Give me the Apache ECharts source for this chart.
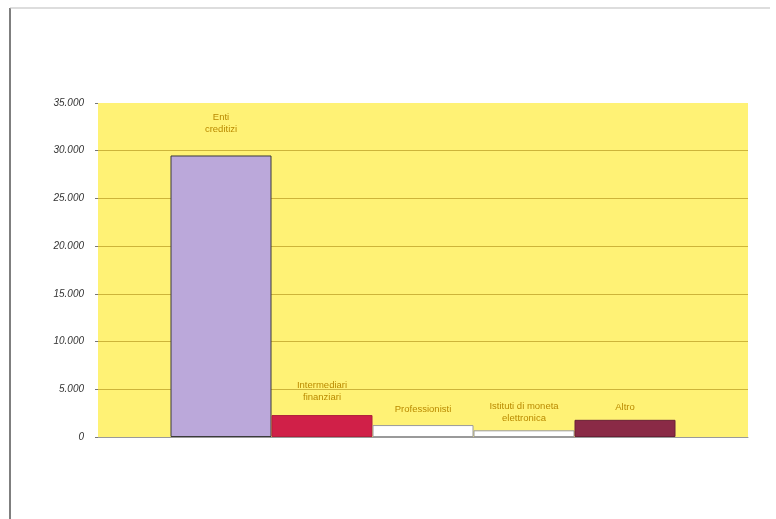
<!DOCTYPE html>
<html>
<head>
<meta charset="utf-8">
<script src="https://cdn.jsdelivr.net/npm/echarts@6/dist/echarts.min.js"></script>
<style>
html,body{margin:0;padding:0;background:#fff;}
#chart{width:776px;height:519px;}
</style>
</head>
<body>
<div id="chart"></div>
<script>
var categories = ['Enti\ncreditizi', 'Intermediari\nfinanziari', 'Professionisti', 'Istituti di moneta\nelettronica', 'Altro'];
var values = [29500, 2300, 1250, 700, 1800];
var yTicks = [0, 5000, 10000, 15000, 20000, 25000, 30000, 35000];

var barColors = ['#BBA8DA', '#D02048', '#FFFFFF', '#FFFFFF', '#8A2A46'];
var borderColors = ['#3a3a3a', '#B0203C', '#9a9a9a', '#9a9a9a', '#6a2036'];
var labelDist = [20, 12, 10, 6, 6];

var series = categories.map(function (name, i) {
  return {
    type: 'bar',
    name: name,
    data: [values[i]],
    barWidth: 101,
    barGap: '0%',
    itemStyle: { color: barColors[i], borderColor: borderColors[i], borderWidth: 1 },
    label: {
      show: true,
      position: 'top',
      distance: labelDist[i],
      formatter: name,
      color: '#BA8A00',
      fontFamily: 'Liberation Sans, Arial, sans-serif',
      fontSize: 9.5,
      lineHeight: 12
    },
    silent: true
  };
});

var chart = echarts.init(document.getElementById('chart'), null, { renderer: 'canvas' });
chart.setOption({
  animation: false,
  backgroundColor: '#ffffff',
  grid: { left: 98, right: 28, top: 103, bottom: 82, show: true, backgroundColor: '#FFF275', borderWidth: 0 },
  xAxis: {
    type: 'category',
    data: [''],
    axisLine: { show: true, lineStyle: { color: '#9a9a9a', width: 1 } },
    axisTick: { show: false },
    axisLabel: { show: false }
  },
  yAxis: {
    type: 'value',
    min: yTicks[0],
    max: yTicks[yTicks.length - 1],
    interval: yTicks[1] - yTicks[0],
    axisLine: { show: false },
    axisTick: { show: true, length: 3, lineStyle: { color: '#777' } },
    axisLabel: {
      margin: 14,
      color: '#333',
      fontStyle: 'italic',
      fontSize: 10,
      fontFamily: 'Liberation Sans, Arial, sans-serif',
      formatter: function (v) { return v === 0 ? '0' : v.toLocaleString('it-IT'); }
    },
    splitLine: { show: true, showMaxLine: false, lineStyle: { color: '#CDB43A', width: 1 } }
  },
  graphic: [
    { type: 'line', shape: { x1: 10, y1: 8, x2: 10, y2: 519 }, style: { stroke: '#555', lineWidth: 1.5 }, silent: true },
    { type: 'line', shape: { x1: 10, y1: 8, x2: 770, y2: 8 }, style: { stroke: '#bbb', lineWidth: 1 }, silent: true }
  ],
  series: series
});
</script>
</body>
</html>
